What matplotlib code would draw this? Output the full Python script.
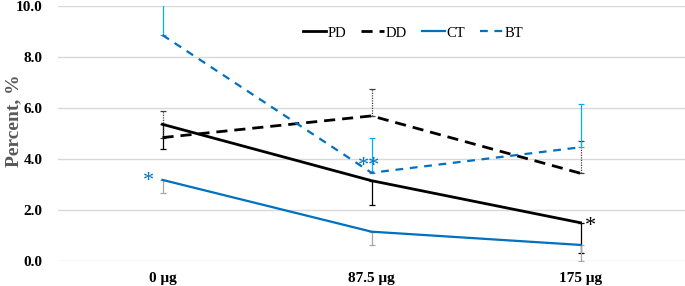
import matplotlib
matplotlib.use('Agg')
import matplotlib.pyplot as plt
import numpy as np

# data
doses = ['0 μg', '87.5 μg', '175 μg']
pd_vals = [5.36, 3.15, 1.50]
pd_err = [0.96, 0.95, 1.17]      # lower only
dd_vals = [4.84, 5.69, 3.44]
dd_err = [1.04, 1.05, 1.28]      # upper only
ct_vals = [3.18, 1.15, 0.63]
ct_err = [0.53, 0.52, 0.63]      # lower only
bt_vals = [8.86, 3.46, 4.46]
bt_err = [1.50, 1.35, 1.70]      # upper only

plt.rcParams['font.family'] = ['Liberation Serif', 'DejaVu Serif']

blue = '#0070C0'
fig = plt.figure(figsize=(6.85, 2.86), dpi=100)
ax = fig.add_axes([58 / 685, 25 / 286, 627 / 685, 255 / 286])

x = np.arange(len(doses))
zeros = [0, 0, 0]

# lines
ax.plot(x, pd_vals, color='black', lw=2.0, label='PD', zorder=3)
ax.plot(x, dd_vals, color='black', lw=2.0, dashes=(4, 2.5), label='DD', zorder=3)
ax.plot(x, ct_vals, color=blue, lw=1.6, label='CT', zorder=3)
ax.plot(x, bt_vals, color=blue, lw=1.6, dashes=(3.5, 3), label='BT', zorder=3)

# error bars
ax.errorbar(x, pd_vals, yerr=[pd_err, zeros], fmt='none', ecolor='black',
            elinewidth=0.9, capsize=2, capthick=0.9, zorder=2)
eb = ax.errorbar(x, dd_vals, yerr=[zeros, dd_err], fmt='none', ecolor='#404040',
                 elinewidth=0.9, capsize=2, capthick=0.9, zorder=2)
eb[2][0].set_linestyle((0, (1, 1)))
ax.errorbar(x, ct_vals, yerr=[ct_err, zeros], fmt='none', ecolor='#a6a6a6',
            elinewidth=0.9, capsize=2, capthick=0.9, zorder=2)
ax.errorbar(x, bt_vals, yerr=[zeros, bt_err], fmt='none', ecolor='#00b0f0',
            elinewidth=0.9, capsize=2, capthick=0.9, zorder=2)

# significance marks
ax.text(-0.04, 3.10, '*', color=blue, fontsize=16, ha='right', va='center')
ax.text(0.99, 3.70, '**', color=blue, fontsize=16, ha='center', va='center')
ax.text(2.02, 1.35, '*', color='black', fontsize=16, ha='left', va='center')

ax.set_xlim(-0.5, 2.5)
ax.set_ylim(0, 10)
ax.set_yticks(np.arange(0, 10.1, 2))
ax.set_yticklabels([f'{v:.1f}' for v in np.arange(0, 10.1, 2)])
ax.set_xticks(x)
ax.set_xticklabels(doses)
for lab in ax.get_xticklabels() + ax.get_yticklabels():
    lab.set_fontweight('bold')
    lab.set_fontsize(11)
ax.tick_params(axis='both', length=0)
ax.tick_params(axis='y', pad=11)
ax.tick_params(axis='x', pad=8)
ax.grid(axis='y', color='#d9d9d9', lw=1)
ax.set_axisbelow(True)
for s in ax.spines.values():
    s.set_visible(False)

fig.text(14 / 685, 1 - 121 / 286, 'Percent, %', rotation=90, fontsize=14,
         fontweight='bold', color='#595959', ha='center', va='center')

ax.legend(loc='center', bbox_to_anchor=(413 / 685, 1 - 33 / 286),
          bbox_transform=fig.transFigure, ncol=4, frameon=False,
          fontsize=10.5, handlelength=1.6, handletextpad=0.1,
          columnspacing=1.0)

plt.savefig('out.png', dpi=100)
